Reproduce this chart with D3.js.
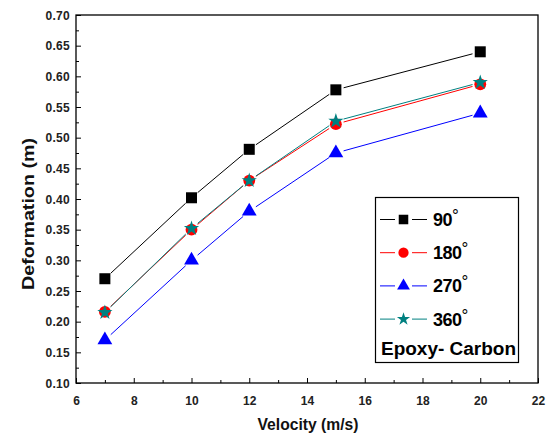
<!DOCTYPE html>
<html>
<head>
<meta charset="utf-8">
<script src="https://cdn.jsdelivr.net/npm/d3@7"></script>
<style>
  html, body { margin: 0; padding: 0; background: #fff; }
  svg { display: block; font-family: Arial, "Liberation Sans", sans-serif; }
</style>
</head>
<body>
<svg id="chart" width="550" height="435"></svg>
<script>
// Impact velocity (m/s)
const velocities = [7, 10, 12, 15, 20];
// Deformation (m) for each fibre orientation angle
const deform90  = [0.270, 0.402, 0.481, 0.578, 0.640];
const deform180 = [0.216, 0.350, 0.430, 0.522, 0.587];
const deform270 = [0.170, 0.300, 0.380, 0.475, 0.540];
const deform360 = [0.215, 0.352, 0.430, 0.527, 0.590];
const seriesAngles = ["90", "180", "270", "360"];
const xTicks = [6, 8, 10, 12, 14, 16, 18, 20, 22];
const yTicks = [0.10, 0.15, 0.20, 0.25, 0.30, 0.35, 0.40, 0.45, 0.50, 0.55, 0.60, 0.65, 0.70];
const materialLabel = "Epoxy- Carbon";

const series = [
  { label: seriesAngles[0], values: deform90,  color: "#000000", symbol: d3.symbolSquare,   size: 121 },
  { label: seriesAngles[1], values: deform180, color: "#ff0000", symbol: d3.symbolCircle,   size: 110 },
  { label: seriesAngles[2], values: deform270, color: "#0000ff", symbol: d3.symbolTriangle, size: 95 },
  { label: seriesAngles[3], values: deform360, color: "#008080", symbol: d3.symbolStar,     size: 72 }
];

const svg = d3.select("#chart");
const plotLeft = 76, plotRight = 538, plotTop = 15, plotBottom = 383;

const x = d3.scaleLinear().domain([6, 22]).range([plotLeft, plotRight]);
const y = d3.scaleLinear().domain([0.10, 0.70]).range([plotBottom, plotTop]);

// Minor ticks (inward)
const xMinor = d3.range(7, 22, 2);
const yMinor = d3.range(0.125, 0.70, 0.05);

const xAxis = d3.axisBottom(x).tickValues(xTicks).tickSizeInner(-5).tickSizeOuter(0).tickPadding(13)
  .tickFormat(d3.format("d"));
const yAxis = d3.axisLeft(y).tickValues(yTicks).tickSizeInner(-5).tickSizeOuter(0).tickPadding(6)
  .tickFormat(d3.format(".2f"));

const gx = svg.append("g").attr("transform", `translate(0,${plotBottom})`).call(xAxis);
const gy = svg.append("g").attr("transform", `translate(${plotLeft},0)`).call(yAxis);
[gx, gy].forEach(g => {
  g.select(".domain").remove();
  g.selectAll(".tick line").attr("stroke", "#000").attr("stroke-width", 1);
  g.selectAll(".tick text").attr("fill", "#222").attr("font-size", 12).attr("font-weight", "bold")
    .attr("font-family", "Arial, 'Liberation Sans', sans-serif");
});
gy.selectAll(".tick text").attr("dy", "0.35em").attr("letter-spacing", "0.3px");

svg.append("g").attr("transform", `translate(0,${plotBottom})`)
  .call(d3.axisBottom(x).tickValues(xMinor).tickSizeInner(-3).tickSizeOuter(0).tickFormat(""))
  .call(g => g.select(".domain").remove())
  .selectAll("line").attr("stroke", "#000");
svg.append("g").attr("transform", `translate(${plotLeft},0)`)
  .call(d3.axisLeft(y).tickValues(yMinor).tickSizeInner(-3).tickSizeOuter(0).tickFormat(""))
  .call(g => g.select(".domain").remove())
  .selectAll("line").attr("stroke", "#000");

// Plot frame
svg.append("rect")
  .attr("x", plotLeft).attr("y", plotTop)
  .attr("width", plotRight - plotLeft).attr("height", plotBottom - plotTop)
  .attr("fill", "none").attr("stroke", "#000").attr("stroke-width", 1.3);

// Connecting lines, broken short of each marker
const gap = 8;
function gappedSegments(px, py) {
  const segs = [];
  for (let i = 0; i < px.length - 1; i++) {
    const dx = px[i + 1] - px[i], dy = py[i + 1] - py[i];
    const len = Math.hypot(dx, dy);
    const ux = dx / len, uy = dy / len;
    segs.push([px[i] + ux * gap, py[i] + uy * gap, px[i + 1] - ux * gap, py[i + 1] - uy * gap]);
  }
  return segs;
}

series.forEach(s => {
  const px = velocities.map(v => x(v));
  const py = s.values.map(v => y(v));
  svg.append("g").selectAll("line")
    .data(gappedSegments(px, py))
    .join("line")
    .attr("x1", d => d[0]).attr("y1", d => d[1])
    .attr("x2", d => d[2]).attr("y2", d => d[3])
    .attr("stroke", s.color).attr("stroke-width", 1);
});

series.forEach(s => {
  svg.append("g").selectAll("path")
    .data(velocities.map((v, i) => [v, s.values[i]]))
    .join("path")
    .attr("transform", d => `translate(${x(d[0])},${y(d[1])})`)
    .attr("d", d3.symbol().type(s.symbol).size(s.size))
    .attr("fill", s.color);
});

// Axis titles
svg.append("text")
  .attr("x", 308).attr("y", 430)
  .attr("text-anchor", "middle")
  .attr("font-size", 17).attr("font-weight", "bold").attr("fill", "#111")
  .attr("textLength", 101).attr("lengthAdjust", "spacingAndGlyphs")
  .text("Velocity (m/s)");

svg.append("text")
  .attr("transform", "translate(34,214) rotate(-90)")
  .attr("text-anchor", "middle")
  .attr("font-size", 17).attr("font-weight", "bold").attr("fill", "#111")
  .attr("textLength", 152).attr("lengthAdjust", "spacingAndGlyphs")
  .text("Deformation (m)");

// Legend
const legend = svg.append("g");
legend.append("rect")
  .attr("x", 375.5).attr("y", 197.5).attr("width", 143).attr("height", 165)
  .attr("fill", "#fff").attr("stroke", "#000").attr("stroke-width", 1.2);

series.forEach((s, i) => {
  const cy = 219.5 + i * 33.2;
  const g = legend.append("g");
  g.append("line").attr("x1", 380).attr("x2", 395).attr("y1", cy).attr("y2", cy)
    .attr("stroke", s.color).attr("stroke-width", 1);
  g.append("line").attr("x1", 412).attr("x2", 427).attr("y1", cy).attr("y2", cy)
    .attr("stroke", s.color).attr("stroke-width", 1);
  g.append("path")
    .attr("transform", `translate(403.5,${cy})`)
    .attr("d", d3.symbol().type(s.symbol).size(s.size * 0.75))
    .attr("fill", s.color);
  const t = g.append("text")
    .attr("x", 433).attr("y", cy + 6.5)
    .attr("font-size", 18).attr("font-weight", "bold").attr("fill", "#000")
    .attr("letter-spacing", "-0.5px");
  t.append("tspan").text(s.label);
  t.append("tspan").attr("dy", -5).attr("font-weight", "normal").attr("font-size", 17).text("°");
});

legend.append("text")
  .attr("x", 381).attr("y", 355)
  .attr("font-size", 18).attr("font-weight", "bold").attr("fill", "#000")
  .attr("textLength", 135).attr("lengthAdjust", "spacingAndGlyphs")
  .text(materialLabel);
</script>
</body>
</html>
